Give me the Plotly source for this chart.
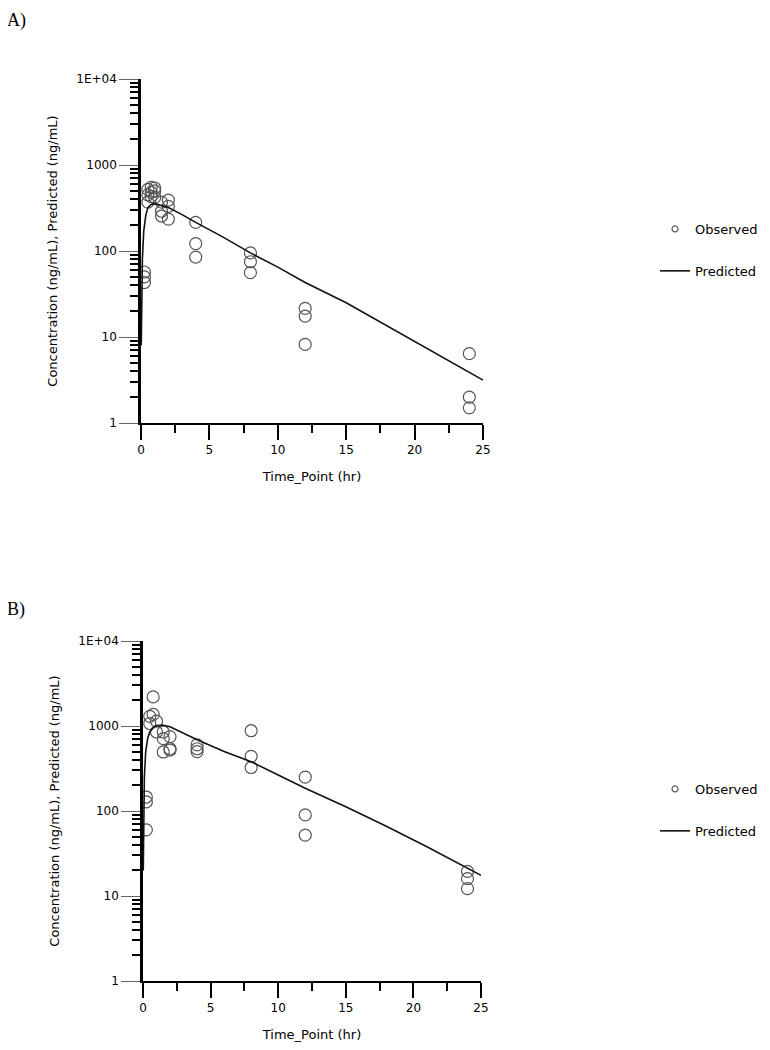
import plotly.graph_objects as go

# ---------------- data ----------------
# Panel A observed
obs_a_time = [0.25, 0.25, 0.25, 0.5, 0.5, 0.5, 0.75, 0.75, 0.75, 1, 1, 1,
              1.5, 1.5, 1.5, 2, 2, 2, 4, 4, 4, 8, 8, 8, 12, 12, 12, 24, 24, 24]
obs_a_conc = [57, 50, 43, 370, 450, 520, 550, 480, 430, 540, 500, 420,
              370, 290, 255, 390, 330, 235, 215, 122, 85, 95, 75, 56,
              21.5, 17.5, 8.2, 6.4, 2.0, 1.5]
# Panel A predicted
pred_a_time = [0.02, 0.05, 0.1, 0.2, 0.35, 0.5, 0.75, 1, 1.5, 2, 3, 4,
               6, 8, 10, 12, 15, 18, 21, 24, 25]
pred_a_conc = [8, 30, 80, 170, 260, 320, 350, 355, 340, 320, 265, 215,
               145, 95, 65, 43, 25, 13.5, 7.3, 3.9, 3.15]

# Panel B observed
obs_b_time = [0.25, 0.25, 0.25, 0.5, 0.5, 0.75, 0.75, 1, 1,
              1.5, 1.5, 1.5, 2, 2, 2, 4, 4, 4, 8, 8, 8, 12, 12, 12, 24, 24, 24]
obs_b_conc = [146, 128, 60, 1070, 1300, 2200, 1370, 1140, 850,
              850, 710, 495, 750, 540, 520, 600, 540, 500, 880, 440, 325,
              250, 90, 52, 19.5, 16, 12.2]
# Panel B predicted
pred_b_time = [0.02, 0.05, 0.1, 0.2, 0.35, 0.5, 0.75, 1, 1.5, 2, 3, 4,
               6, 8, 10, 12, 15, 18, 21, 24, 25]
pred_b_conc = [20, 80, 250, 500, 720, 850, 960, 1010, 1020, 980, 820, 690,
               500, 380, 265, 185, 112, 66, 38, 21.5, 17.5]

y_tickvals = [1, 10, 100, 1000, 10000]
y_ticktext = ["1", "10", "100", "1000", "1E+04"]
x_tickvals = [0, 5, 10, 15, 20, 25]

# ---------------- layout helpers ----------------
# page is 770x1050 with an 8px body margin -> figure is 754x1034 offset by 8px
OFF = 8
W, H = 770 - 2 * OFF, 1050 - 2 * OFF
FONT = "DejaVu Sans"
MARK_COLOR = "#555555"

def px(x):
    return (x - OFF) / W

def py(y):
    return 1 - (y - OFF) / H

def xdom(x0, x1):
    return [px(x0), px(x1)]

def ydom(ytop, ybot):
    return [py(ybot), py(ytop)]

minor_y = [m * 10 ** e for e in range(4) for m in range(2, 10)]

fig = go.Figure()

def add_panel(tx, cy, ptx, pcy, xa, ya, legend_name):
    fig.add_trace(go.Scatter(
        x=tx, y=cy, mode="markers", xaxis=xa, yaxis=ya, showlegend=False,
        marker=dict(symbol="circle-open", size=12, color=MARK_COLOR,
                    line=dict(width=1.2, color=MARK_COLOR)),
    ))
    fig.add_trace(go.Scatter(
        x=ptx, y=pcy, mode="lines", xaxis=xa, yaxis=ya, showlegend=False,
        line=dict(color="#111111", width=1.6),
    ))
    # legend entries
    fig.add_trace(go.Scatter(
        x=[None], y=[None], mode="markers", name="Observed", xaxis=xa, yaxis=ya,
        legend=legend_name, legendgroup="obs",
        marker=dict(symbol="circle-open", size=6, color=MARK_COLOR,
                    line=dict(width=1.2, color=MARK_COLOR)),
    ))
    fig.add_trace(go.Scatter(
        x=[None], y=[None], mode="lines", name="Predicted", xaxis=xa, yaxis=ya,
        legend=legend_name, legendgroup="pred",
        line=dict(color="#111111", width=1.6),
    ))

add_panel(obs_a_time, obs_a_conc, pred_a_time, pred_a_conc, "x", "y", "legend")
add_panel(obs_b_time, obs_b_conc, pred_b_time, pred_b_conc, "x2", "y2", "legend2")

def xaxis_cfg(dom, anchor, standoff):
    return dict(
        domain=dom, anchor=anchor, range=[0, 25], tickmode="array",
        tickvals=x_tickvals, showline=True, linecolor="black", linewidth=2,
        ticks="outside", ticklen=15, tickwidth=1.5, tickcolor="black",
        showgrid=False, zeroline=False,
        minor=dict(ticks="outside", ticklen=8, tickwidth=1.5, tickcolor="black",
                   tickmode="array", tickvals=[2.5, 7.5, 12.5, 17.5, 22.5]),
        tickfont=dict(family=FONT, size=12, color="black"),
        title=dict(text="Time_Point (hr)", font=dict(family=FONT, size=13, color="black"),
                   standoff=standoff),
    )

def yaxis_cfg(dom, anchor):
    return dict(
        domain=dom, anchor=anchor, type="log", range=[0, 4], tickmode="array",
        tickvals=y_tickvals, ticktext=y_ticktext, showline=True,
        linecolor="black", linewidth=2.5,
        ticks="outside", ticklen=19, tickwidth=1, tickcolor="#666666",
        showgrid=False, zeroline=False,
        minor=dict(ticks="outside", ticklen=8, tickwidth=1.5, tickcolor="black",
                   tickmode="array", tickvals=minor_y),
        tickfont=dict(family=FONT, size=12, color="black"),
        title=dict(text="Concentration (ng/mL), Predicted (ng/mL)",
                   font=dict(family=FONT, size=13, color="black"), standoff=16),
    )

legend_common = dict(
    font=dict(family=FONT, size=13, color="black"),
    bgcolor="rgba(0,0,0,0)", xanchor="left", yanchor="top",
    traceorder="grouped", tracegroupgap=22, itemwidth=30,
)

fig.update_layout(
    width=W, height=H, autosize=False,
    margin=dict(l=0, r=0, t=0, b=0, autoexpand=False),
    paper_bgcolor="white", plot_bgcolor="white",
    xaxis=xaxis_cfg(xdom(141, 483), "y", 15),
    yaxis=yaxis_cfg(ydom(79, 423), "x"),
    xaxis2=xaxis_cfg(xdom(143, 481), "y2", 22),
    yaxis2=yaxis_cfg(ydom(641, 981), "x2"),
    legend=dict(x=px(655), y=py(214), **legend_common),
    legend2=dict(x=px(655), y=py(774), **legend_common),
    annotations=[
        dict(text="A)", x=px(5), y=py(20), xref="paper", yref="paper",
             xanchor="left", yanchor="middle", showarrow=False,
             font=dict(family="Liberation Serif", size=18, color="black")),
        dict(text="B)", x=px(5), y=py(609), xref="paper", yref="paper",
             xanchor="left", yanchor="middle", showarrow=False,
             font=dict(family="Liberation Serif", size=18, color="black")),
    ],
)

fig.write_html("out.html")
